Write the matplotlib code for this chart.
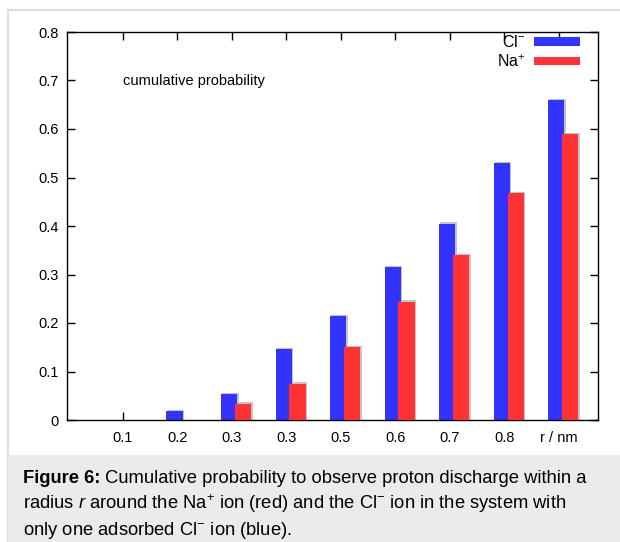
import numpy as np
import matplotlib.pyplot as plt
from matplotlib.patches import Rectangle

# =============================================================================
# Data
# =============================================================================

tick_labels = ['0.1', '0.2', '0.3', '0.3', '0.5', '0.6', '0.7', '0.8', 'r / nm']
#Cl- cumulative probability (blue)
cl_prob = [0.0, 0.018, 0.053, 0.146, 0.215, 0.315, 0.405, 0.530, 0.660]
#Na+ cumulative probability (red)
na_prob = [0.0, 0.0, 0.034, 0.075, 0.151, 0.244, 0.340, 0.468, 0.590]

# =============================================================================
# Plotting
# =============================================================================

params = {'font.family': ['Liberation Sans', 'DejaVu Sans'],
          'mathtext.fontset': 'custom',
          'mathtext.rm': 'Liberation Sans',
          'mathtext.it': 'Liberation Sans:italic',
          'mathtext.bf': 'Liberation Sans:bold',
          'xtick.labelsize': 10.5,
          'ytick.labelsize': 10.5,
          'axes.linewidth': 1.0}
plt.rcParams.update(params)

fig = plt.figure(figsize=(6.2, 5.42), dpi=100)

#outer frame and caption box
fig.patches.append(Rectangle((8/620, 0), 1, 1 - 10/542, transform=fig.transFigure,
                             facecolor='white', edgecolor='#dddddd', lw=1.5, zorder=-2))
fig.patches.append(Rectangle((8/620, 0), 1, 1 - 455/542, transform=fig.transFigure,
                             facecolor='#ebebeb', edgecolor='none', zorder=-1))

ax = fig.add_axes([67/620, 1 - 420/542, 531/620, 388/542])

x = np.arange(len(tick_labels))
blue_off, red_off, w = -0.045, 0.21, 0.30
sx, sy = 0.025, 0.0025

#light gray shadow behind bars
cl = np.array(cl_prob)
na = np.array(na_prob)
ax.bar(x + blue_off + sx, cl + sy * (cl > 0), w, color='#c4c4c4', zorder=1)
ax.bar(x + red_off + sx, na + sy * (na > 0), w, color='#c4c4c4', zorder=1)
ax.bar(x + blue_off, cl, w, color='#3333ff', zorder=2, label=r'Cl$^{-}$')
ax.bar(x + red_off, na, w, color='#ff3333', zorder=3, label=r'Na$^{+}$')

ax.set_xlim(-1.02, 8.72)
ax.set_ylim(0, 0.8)
ax.set_xticks(x)
ax.set_xticklabels(tick_labels)
ax.set_yticks(np.arange(0, 0.81, 0.1))
ax.set_yticklabels(['0', '0.1', '0.2', '0.3', '0.4', '0.5', '0.6', '0.7', '0.8'])
ax.tick_params(direction='in', top=True, right=True, length=6, width=1, pad=8)
ax.tick_params(axis='y', pad=6)

ax.text(0.0, 0.7, 'cumulative probability', fontsize=10.5, va='center', ha='left')

ax.legend(loc='upper right', bbox_to_anchor=(0.966, 0.995), frameon=False,
          markerfirst=False, fontsize=11.5, handlelength=2.9, handleheight=0.45,
          labelspacing=0.2, handletextpad=0.5, borderaxespad=0, borderpad=0)

#caption
cap_size = 13.2
t1 = fig.text(23/620, 1 - 483/542, 'Figure 6:', fontsize=cap_size, fontweight='bold',
              va='baseline', ha='left')
plt.annotate(' Cumulative probability to observe proton discharge within a',
             xy=(1, 0), xycoords=t1, fontsize=cap_size, va='bottom', ha='left',
             annotation_clip=False)
fig.text(23/620, 1 - 509/542,
         r'radius $\it{r}$ around the Na$^{+}$ ion (red) and the Cl$^{-}$ ion in the system with',
         fontsize=cap_size, va='baseline', ha='left')
fig.text(23/620, 1 - 535/542, r'only one adsorbed Cl$^{-}$ ion (blue).',
         fontsize=cap_size, va='baseline', ha='left')

plt.savefig('out.png', dpi=100)
